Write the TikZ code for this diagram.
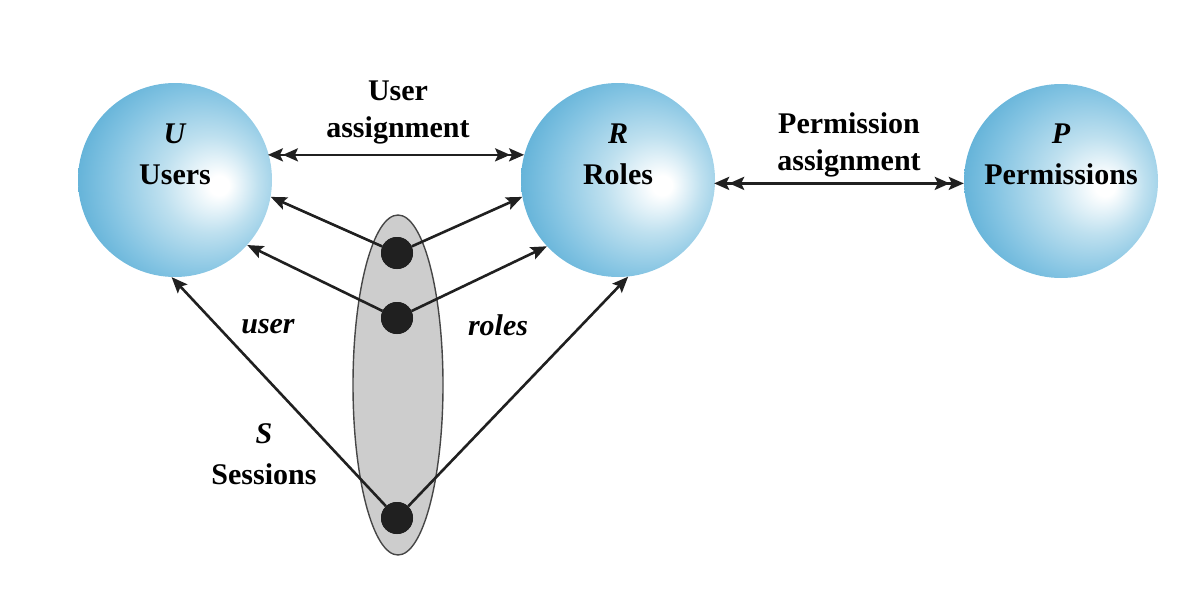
\documentclass[tikz,border=0pt]{standalone}
\usepackage{fontspec}
\setmainfont{Liberation Serif}
\usetikzlibrary{arrows.meta,shapes.geometric}
\definecolor{ballblue}{RGB}{72,164,208}
\definecolor{ballmid}{RGB}{130,195,226}
\definecolor{balllight}{RGB}{190,224,239}
\definecolor{arrowgray}{RGB}{32,32,32}
\definecolor{sessgray}{RGB}{205,205,205}
\definecolor{sessedge}{RGB}{70,70,70}
\pgfdeclareradialshading{setball}{\pgfpoint{12bp}{-1.5bp}}{color(0bp)=(white); color(2.5bp)=(white); color(12.5bp)=(balllight); color(24bp)=(ballmid); color(36bp)=(ballblue); color(50bp)=(ballblue)}
\begin{document}
\begin{tikzpicture}[x=1pt,y=-1pt,
  setcircle/.style={circle, minimum size=194pt, inner sep=0pt, shading=setball},
  dotnode/.style={circle, fill=arrowgray, minimum size=32pt, inner sep=0pt},
  sessell/.style={ellipse, draw=sessedge, line width=1.4pt, fill=sessgray, minimum width=90pt, minimum height=340pt, inner sep=0pt},
  lbl/.style={font=\fontsize{30}{41}\selectfont\bfseries, align=center, inner sep=0pt},
  toplbl/.style={font=\fontsize{30}{37}\selectfont\bfseries, align=center, inner sep=0pt},
  itlbl/.style={font=\fontsize{30}{36}\selectfont\bfseries\itshape, inner sep=0pt},
  arr/.style={draw=arrowgray, line width=2.6pt, -{Stealth[length=16pt,width=13pt,inset=3pt]}},
  darr/.style={draw=arrowgray, line width=2.6pt, {Stealth[length=15pt,width=13pt,inset=3pt,sep=-1pt]Stealth[length=15pt,width=13pt,inset=3pt]}-{Stealth[length=15pt,width=13pt,inset=3pt,sep=-1pt]Stealth[length=15pt,width=13pt,inset=3pt]}}
]
\useasboundingbox (0,0) rectangle (1204,594);

% sets
\node[setcircle] (U) at (175,180) {};
\node[setcircle] (R) at (618,180) {};
\node[setcircle] (P) at (1061,181) {};
\node[lbl] (Ut) at (175,154.5) {\textit{U}\\Users};
\node[lbl] (Rt) at (618,154.5) {\textit{R}\\Roles};
\node[lbl] (Pt) at (1061,154.5) {\textit{P}\\Permissions};

% sessions
\node[sessell] (S) at (398,385) {};
\node[dotnode] (d1) at (397,253) {};
\node[dotnode] (d2) at (397,318) {};
\node[dotnode] (d3) at (397,518) {};

% assignments
\draw[darr] (U.15) -- (R.165);
\draw[darr] (R.-2) -- (R.-2 -| P.west);
\node[toplbl] (uat) at (398,112) {User\\assignment};
\node[toplbl] (pat) at (849,145) {Permission\\assignment};

% session links
\draw[arr] (d1) -- (U.-10);
\draw[arr] (d1) -- (R.190);
\draw[arr] (d2) -- (U.-42);
\draw[arr] (d2) -- (R.223);
\draw[arr] (d3) -- (U.-92);
\draw[arr] (d3) -- (R.-84);
\node[dotnode] at (d1) {};
\node[dotnode] at (d2) {};
\node[dotnode] at (d3) {};

\node[itlbl] (ul) at (268,327) {user};
\node[itlbl] (rl) at (498,325) {roles};
\node[lbl] (St) at (264,454) {\textit{S}\\Sessions};
\end{tikzpicture}
\end{document}
